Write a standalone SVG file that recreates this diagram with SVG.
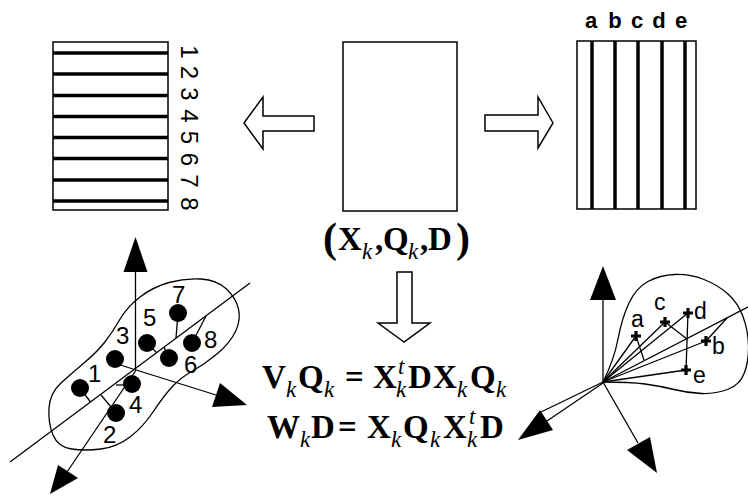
<svg xmlns="http://www.w3.org/2000/svg" width="748" height="497" viewBox="0 0 748 497">
  <style>
    .frame { fill: #fff; stroke: #000; stroke-width: 1.5; }
    .bar { stroke: #000; stroke-width: 3.5; }
    .hollow { fill: #fff; stroke: #000; stroke-width: 1.5; stroke-linejoin: miter; }
    .thin { fill: none; stroke: #000; stroke-width: 1.3; }
    .head { fill: #000; stroke: none; }
    .dot { fill: #000; }
    .cross { stroke: #000; stroke-width: 3.2; }
    .lbl { font-family: "Liberation Sans", Arial, sans-serif; font-size: 24px; fill: #000; }
    .lbls { font-family: "Liberation Sans", Arial, sans-serif; font-size: 23px; fill: #000; }
    .lblb { font-family: "Liberation Sans", Arial, sans-serif; font-size: 22px; font-weight: bold; fill: #000; }
    .m { font-family: "Liberation Serif", "Times New Roman", serif; font-size: 33px; font-weight: bold; fill: #000; }
    .p { font-family: "Liberation Serif", "Times New Roman", serif; font-size: 42px; font-weight: bold; fill: #000; }
    .s { font-family: "Liberation Serif", "Times New Roman", serif; font-size: 23px; font-style: italic; fill: #000; }
  </style>

  <!-- data table: rows view -->
  <g id="rows-matrix">
    <rect class="frame" x="53" y="42" width="115" height="168"/>
    <line class="bar" x1="53" y1="53" x2="168" y2="53"/>
    <line class="bar" x1="53" y1="74" x2="168" y2="74"/>
    <line class="bar" x1="53" y1="95.5" x2="168" y2="95.5"/>
    <line class="bar" x1="53" y1="116.5" x2="168" y2="116.5"/>
    <line class="bar" x1="53" y1="137.5" x2="168" y2="137.5"/>
    <line class="bar" x1="53" y1="158.5" x2="168" y2="158.5"/>
    <line class="bar" x1="53" y1="180" x2="168" y2="180"/>
    <line class="bar" x1="53" y1="201" x2="168" y2="201"/>
    <g class="lbl" text-anchor="middle">
      <text x="181" y="52" transform="rotate(90 181 52)">1</text>
      <text x="181" y="72.5" transform="rotate(90 181 72.5)">2</text>
      <text x="181" y="94" transform="rotate(90 181 94)">3</text>
      <text x="181" y="116" transform="rotate(90 181 116)">4</text>
      <text x="181" y="137.5" transform="rotate(90 181 137.5)">5</text>
      <text x="181" y="159.5" transform="rotate(90 181 159.5)">6</text>
      <text x="181" y="181" transform="rotate(90 181 181)">7</text>
      <text x="181" y="204" transform="rotate(90 181 204)">8</text>
    </g>
  </g>

  <!-- data table: central -->
  <g id="data-matrix">
    <rect class="frame" x="343" y="42" width="114" height="169"/>
    <text class="p" x="323" y="252">(</text>
    <text class="m" x="338" y="250">X</text>
    <text class="s" x="362" y="259">k</text>
    <text class="m" x="375" y="250">,</text>
    <text class="m" x="383" y="250">Q</text>
    <text class="s" x="408" y="259">k</text>
    <text class="m" x="420" y="250">,</text>
    <text class="m" x="428" y="250">D</text>
    <text class="p" x="456" y="252">)</text>
  </g>

  <!-- data table: columns view -->
  <g id="cols-matrix">
    <rect class="frame" x="577" y="41" width="119" height="168"/>
    <line class="bar" x1="592" y1="41" x2="592" y2="209"/>
    <line class="bar" x1="615" y1="41" x2="615" y2="209"/>
    <line class="bar" x1="638" y1="41" x2="638" y2="209"/>
    <line class="bar" x1="662" y1="41" x2="662" y2="209"/>
    <line class="bar" x1="685" y1="41" x2="685" y2="209"/>
    <g class="lblb" text-anchor="middle">
      <text x="591" y="28">a</text>
      <text x="615" y="28">b</text>
      <text x="637" y="28">c</text>
      <text x="659" y="28">d</text>
      <text x="681" y="28">e</text>
    </g>
  </g>

  <!-- equations -->
  <g id="equations">
    <text class="m" x="262" y="388">V</text>
    <text class="s" x="286" y="397">k</text>
    <text class="m" x="298" y="388">Q</text>
    <text class="s" x="324" y="397">k</text>
    <text class="m" x="345" y="388">=</text>
    <text class="m" x="373" y="388">X</text>
    <text class="s" x="398" y="374">t</text>
    <text class="s" x="396" y="397">k</text>
    <text class="m" x="408" y="388">D</text>
    <text class="m" x="433" y="388">X</text>
    <text class="s" x="457" y="397">k</text>
    <text class="m" x="470" y="388">Q</text>
    <text class="s" x="496" y="397">k</text>

    <text class="m" x="267" y="438">W</text>
    <text class="s" x="300" y="447">k</text>
    <text class="m" x="311" y="438">D</text>
    <text class="m" x="338" y="438">=</text>
    <text class="m" x="367" y="438">X</text>
    <text class="s" x="391" y="447">k</text>
    <text class="m" x="403" y="438">Q</text>
    <text class="s" x="430" y="447">k</text>
    <text class="m" x="443" y="438">X</text>
    <text class="s" x="469" y="424">t</text>
    <text class="s" x="467" y="447">k</text>
    <text class="m" x="480" y="438">D</text>
  </g>

  <!-- block arrows between the tables -->
  <g id="connectors">
    <path class="hollow" d="M244,123 L263,97 L263,116 L314,116 L314,131 L263,131 L263,149 Z"/>
    <path class="hollow" d="M553,123 L538,97 L538,115 L485,115 L485,131 L538,131 L538,148 Z"/>
    <path class="hollow" d="M404,342 L378,323 L397,323 L397,272 L412,272 L412,323 L430,323 Z"/>
  </g>

  <!-- individuals cloud in variable space -->
  <g id="rows-plot">
    <path class="thin" d="M119.5,320 Q127,307 140,297 Q153,287 169,282.5 Q185,278 201,279 Q217,280 226.5,289 Q236,298 238.5,309 Q241,320 235.5,331.5 Q230,343 217.5,353.5 Q205,364 192.5,371 Q180,378 171.5,387.5 Q163,397 153,412 Q143,427 130,437 Q117,447 101,449 Q85,451 71.5,449 Q58,447 53,435 Q48,423 49,408 Q50,393 61,383 Q72,373 84.5,362.5 Q97,352 104.5,342.5 Q112,333 119.5,320 Z"/>
    <!-- axes -->
    <line class="thin" x1="135.5" y1="268" x2="135.5" y2="371"/>
    <line class="thin" x1="117" y1="364" x2="216" y2="395"/>
    <line class="thin" x1="135.5" y1="371" x2="67" y2="472"/>
    <polygon class="head" points="135.5,237 123.5,272 147.5,272"/>
    <polygon class="head" points="247,405 220,383 212,407"/>
    <polygon class="head" points="50,494 58,465 78,478"/>
    <!-- principal direction -->
    <line class="thin" x1="10" y1="462" x2="250" y2="283"/>
    <!-- projections -->
    <line class="thin" x1="80" y1="388" x2="90.5" y2="402"/>
    <line class="thin" x1="116" y1="413" x2="101" y2="395"/>
    <line class="thin" x1="132" y1="385" x2="116" y2="385"/>
    <line class="thin" x1="147" y1="343" x2="157" y2="353"/>
    <line class="thin" x1="169" y1="358" x2="164" y2="347"/>
    <line class="thin" x1="178" y1="313" x2="176" y2="338"/>
    <line class="thin" x1="192" y1="343" x2="206" y2="316"/>
    <!-- points -->
    <circle class="dot" cx="80" cy="388" r="9"/>
    <circle class="dot" cx="116" cy="413" r="9"/>
    <circle class="dot" cx="115" cy="359" r="9"/>
    <circle class="dot" cx="132" cy="384" r="9"/>
    <circle class="dot" cx="147" cy="343" r="9"/>
    <circle class="dot" cx="169" cy="358" r="9"/>
    <circle class="dot" cx="178" cy="313" r="9"/>
    <circle class="dot" cx="192" cy="343" r="9"/>
    <g class="lbl">
      <text x="88" y="382">1</text>
      <text x="103" y="443">2</text>
      <text x="116" y="344">3</text>
      <text x="129" y="413">4</text>
      <text x="143" y="326">5</text>
      <text x="184" y="373">6</text>
      <text x="172" y="303">7</text>
      <text x="204" y="348">8</text>
    </g>
  </g>

  <!-- variables in individual space -->
  <g id="cols-plot">
    <path class="thin" d="M603,382 Q614,360 618,339 Q622,318 629,303 Q636,288 648,281.5 Q660,275 675,274.5 Q690,274 704,279.5 Q718,285 728,294 Q738,303 743,316.5 Q748,330 748.5,345 Q749,360 744.5,372.5 Q740,385 727.5,389.5 Q715,394 701.5,393.5 Q688,393 674,389.5 Q660,386 645,384 Q630,382 603,382 Z"/>
    <!-- axes -->
    <line class="thin" x1="603" y1="298" x2="603" y2="382"/>
    <line class="thin" x1="603" y1="382" x2="541" y2="412"/>
    <line class="thin" x1="603" y1="383" x2="547" y2="421"/>
    <line class="thin" x1="603" y1="382" x2="638" y2="443"/>
    <polygon class="head" points="603,266 590,300 616,300"/>
    <polygon class="head" points="518,440 540,410 553,430"/>
    <polygon class="head" points="657,473 627,450 650,437"/>
    <!-- vectors and principal direction -->
    <line class="thin" x1="603" y1="382" x2="636" y2="336"/>
    <line class="thin" x1="603" y1="382" x2="665" y2="322"/>
    <line class="thin" x1="603" y1="382" x2="688" y2="313"/>
    <line class="thin" x1="603" y1="382" x2="706" y2="341"/>
    <line class="thin" x1="603" y1="382" x2="686" y2="370"/>
    <line class="thin" x1="603" y1="382" x2="750" y2="306"/>
    <!-- projections -->
    <line class="thin" x1="636" y1="336" x2="644" y2="360"/>
    <line class="thin" x1="665" y1="322" x2="687" y2="339"/>
    <line class="thin" x1="688" y1="313" x2="686" y2="370"/>
    <line class="thin" x1="706" y1="341" x2="727" y2="318"/>
    <!-- points -->
    <path class="cross" d="M631,336 h10 M636,331 v10"/>
    <path class="cross" d="M660,322 h10 M665,317 v10"/>
    <path class="cross" d="M683,313 h10 M688,308 v10"/>
    <path class="cross" d="M701,341 h10 M706,336 v10"/>
    <path class="cross" d="M681,370 h10 M686,365 v10"/>
    <g class="lbls">
      <text x="631" y="327">a</text>
      <text x="654" y="310">c</text>
      <text x="694" y="319">d</text>
      <text x="712" y="354">b</text>
      <text x="693" y="383">e</text>
    </g>
  </g>
</svg>
